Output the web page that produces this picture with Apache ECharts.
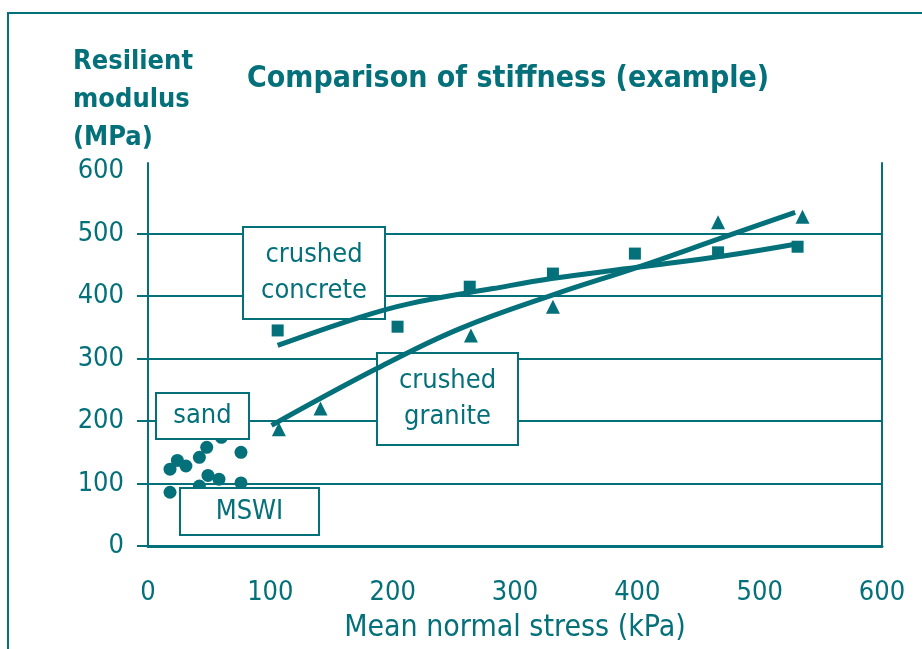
<!DOCTYPE html>
<html>
<head>
<meta charset="utf-8">
<script src="https://cdn.jsdelivr.net/npm/echarts@6/dist/echarts.min.js"></script>
<style>
  html, body { margin: 0; padding: 0; background: #fff; }
  #chart { width: 922px; height: 649px; }
</style>
</head>
<body>
<div id="chart"></div>
<script>
var TEAL = '#04707a';
var FONT = "'Liberation Sans Narrow', 'DejaVu Sans Condensed', 'Liberation Sans', sans-serif";

// tick labels
var xTickValues = [0, 100, 200, 300, 400, 500, 600];
var yLabelValues = [0, 100, 200, 300, 400, 500, 600];
var yTickValues = [0, 100, 200, 300, 400, 500];

// crushed concrete (squares)
var concreteStress = [106, 204, 263, 331, 398, 466, 531];
var concreteModulus = [345, 351, 415, 436, 468, 470, 479];
// crushed granite (triangles)
var graniteStress = [107, 141, 264, 331, 466, 535];
var graniteModulus = [187, 220, 337, 383, 518, 527];
// sand / MSWI (circles)
var mswiStress = [18, 24, 31, 42, 48, 60, 76, 49, 58, 76, 42, 18];
var mswiModulus = [123, 137, 128, 142, 158, 174, 150, 113, 107, 101, 96, 86];

// fitted trend lines
var concreteFitX = [106, 173, 214, 282, 330, 400, 473, 529];
var concreteFitY = [321, 366, 388, 412, 428, 446, 465, 483];
var graniteFitX = [101, 187, 255, 334, 400, 473, 529];
var graniteFitY = [193, 284, 348, 404, 446, 496, 534];

function pairs(xs, ys) {
  return xs.map(function(x, i) { return [x, ys[i]]; });
}

function labelBox(x, y, w, h, text) {
  return {
    type: 'group',
    z: 5,
    children: [
      { type: 'rect', shape: { x: x, y: y, width: w, height: h },
        style: { fill: '#fff', stroke: TEAL, lineWidth: 2 }, z: 5 },
      { type: 'text', x: x + w / 2, y: y + h / 2, z: 6,
        style: { text: text, fill: TEAL, font: '27px ' + FONT,
                 align: 'center', verticalAlign: 'middle',
                 textAlign: 'center', textVerticalAlign: 'middle', lineHeight: 36 } }
    ]
  };
}

var chart = echarts.init(document.getElementById('chart'));
var option = {
  backgroundColor: '#fff',
  animation: false,
  textStyle: { fontFamily: FONT },
  title: [
    { text: 'Comparison of stiffness (example)', left: 242, top: 59,
      textStyle: { color: TEAL, fontSize: 30, fontWeight: 'bold', fontFamily: FONT } },
    { text: 'Resilient\nmodulus\n(MPa)', left: 68, top: 38,
      textStyle: { color: TEAL, fontSize: 27, fontWeight: 'bold', lineHeight: 38, fontFamily: FONT } }
  ],
  grid: { left: 148, right: 40, top: 163, bottom: 103, containLabel: false },
  xAxis: {
    type: 'value', min: 0, max: 600, interval: 100,
    name: 'Mean normal stress (kPa)', nameLocation: 'middle', nameGap: 67,
    nameTextStyle: { color: TEAL, fontSize: 30, fontFamily: FONT },
    axisLine: { show: true, lineStyle: { color: TEAL, width: 3 } },
    axisTick: { show: false },
    splitLine: { show: false },
    axisLabel: { color: TEAL, fontSize: 27, margin: 33, fontFamily: FONT,
                 customValues: xTickValues }
  },
  yAxis: [
    {
      type: 'value', min: 0, max: 613,
      axisLine: { show: true, lineStyle: { color: TEAL, width: 2 } },
      axisTick: { show: true, length: 11, customValues: yTickValues,
                  lineStyle: { color: TEAL, width: 2 } },
      splitLine: { show: true, lineStyle: { color: TEAL, width: 2 } },
      axisLabel: { color: TEAL, fontSize: 27, margin: 24, fontFamily: FONT,
                   customValues: yLabelValues }
    },
    {
      type: 'value', min: 0, max: 613, position: 'right',
      axisLine: { show: true, lineStyle: { color: TEAL, width: 2 } },
      axisTick: { show: false }, axisLabel: { show: false }, splitLine: { show: false }
    }
  ],
  graphic: [
    { type: 'polyline', z: 0, shape: { points: [[8, 649], [8, 13], [922, 13]] },
      style: { stroke: TEAL, lineWidth: 2, fill: null } },
    labelBox(243, 227, 142, 92, 'crushed\nconcrete'),
    labelBox(377, 353, 141, 92, 'crushed\ngranite'),
    labelBox(156, 393, 93, 46, 'sand'),
    labelBox(180, 488, 139, 47, 'MSWI')
  ],
  series: [
    { name: 'sand / MSWI', type: 'scatter', z: 1, symbol: 'circle', symbolSize: 13,
      itemStyle: { color: TEAL, opacity: 1 }, data: pairs(mswiStress, mswiModulus) },
    { name: 'crushed concrete', type: 'scatter', z: 8, symbol: 'rect', symbolSize: 12,
      itemStyle: { color: TEAL, opacity: 1 }, data: pairs(concreteStress, concreteModulus) },
    { name: 'crushed granite', type: 'scatter', z: 8, symbol: 'triangle', symbolSize: 14,
      itemStyle: { color: TEAL, opacity: 1 }, data: pairs(graniteStress, graniteModulus) },
    { name: 'concrete fit', type: 'line', z: 9, smooth: 0.4, showSymbol: false,
      lineStyle: { color: TEAL, width: 5 }, data: pairs(concreteFitX, concreteFitY) },
    { name: 'granite fit', type: 'line', z: 9, smooth: 0.4, showSymbol: false,
      lineStyle: { color: TEAL, width: 5 }, data: pairs(graniteFitX, graniteFitY) }
  ]
};
chart.setOption(option);
</script>
</body>
</html>
